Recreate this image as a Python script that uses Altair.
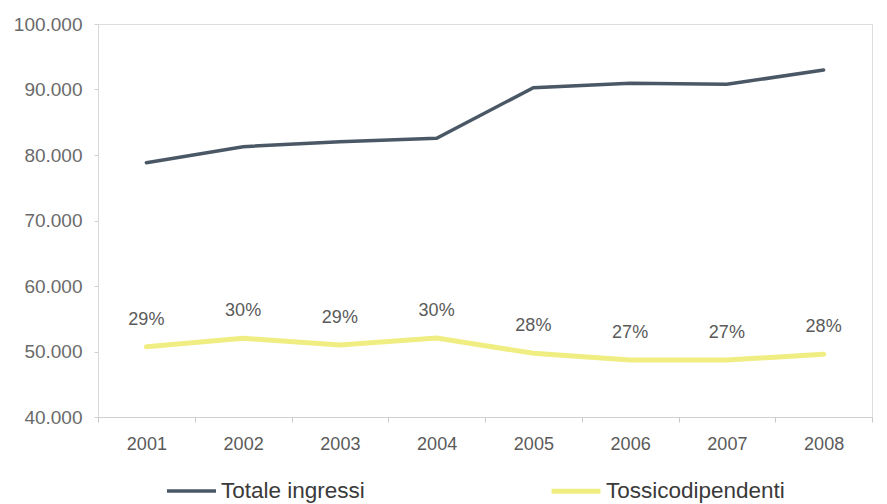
import altair as alt
import pandas as pd

years = ["2001", "2002", "2003", "2004", "2005", "2006", "2007", "2008"]
totale_ingressi = [78820, 81270, 82030, 82550, 90280, 90940, 90790, 92980]
tossicodipendenti = [50730, 52010, 50990, 52050, 49720, 48700, 48700, 49570]
percentuali = ["29%", "30%", "29%", "30%", "28%", "27%", "27%", "28%"]
series_names = ["Totale ingressi", "Tossicodipendenti"]
series_colors = ["#4a5866", "#f0ee82"]
series_widths = [3.5, 5]
y_ticks = [40000, 50000, 60000, 70000, 80000, 90000, 100000]

rows = []
for i, y in enumerate(years):
    rows.append({"anno": y, "serie": series_names[0], "valore": totale_ingressi[i], "pct": ""})
    rows.append({"anno": y, "serie": series_names[1], "valore": tossicodipendenti[i], "pct": percentuali[i]})
df = pd.DataFrame(rows)

FONT = "Liberation Sans"
TXT = "#5a5a5a"

x_enc = alt.X(
    "anno:O",
    bandPosition=0.5,
    scale=alt.Scale(type="band", paddingInner=0, paddingOuter=0),
    axis=alt.Axis(
        title=None, labelAngle=0, labelFontSize=18, labelFont=FONT, labelColor=TXT,
        tickBand="extent", tickSize=5, tickColor="#c8c8c8", domainColor="#d0d0d0",
        labelPadding=13, grid=False,
    ),
)
y_enc = alt.Y(
    "valore:Q",
    scale=alt.Scale(domain=[40000, 100000], nice=False, zero=False),
    axis=alt.Axis(
        title=None, values=y_ticks, labelFontSize=19, labelFont=FONT, labelColor="#6a6a6a",
        labelExpr="replace(format(datum.value, ',d'), ',', '.')",
        tickSize=4, tickColor="#d0d0d0", domainColor="#d8d8d8", labelPadding=12, grid=False,
    ),
)

lines = alt.Chart(df).mark_line(strokeCap="round").encode(
    x=x_enc,
    y=y_enc,
    color=alt.Color(
        "serie:N",
        scale=alt.Scale(domain=series_names, range=series_colors),
        sort=series_names,
        legend=alt.Legend(
            title=None, orient="none", legendX=67, legendY=440, direction="horizontal",
            symbolType="stroke", symbolSize=2400, symbolStrokeWidth=4, labelFontSize=22.5,
            labelFont=FONT, labelColor="#3a3a3a", labelOffset=3, columnPadding=176,
            labelLimit=400, padding=0,
        ),
    ),
    strokeWidth=alt.StrokeWidth(
        "serie:N", scale=alt.Scale(domain=series_names, range=series_widths), legend=None
    ),
    detail="serie:N",
)

labels = alt.Chart(df).transform_filter(
    alt.datum.serie == series_names[1]
).mark_text(fontSize=18, font=FONT, color=TXT, dy=-27, baseline="middle", align="center").encode(
    x=alt.X("anno:O", bandPosition=0.5, scale=alt.Scale(type="band", paddingInner=0, paddingOuter=0)),
    y=alt.Y("valore:Q"),
    text="pct:N",
)

chart = alt.layer(lines, labels).properties(
    width=774, height=393,
    autosize=alt.AutoSizeParams(type="none"),
    padding={"left": 90, "top": 16, "right": 7, "bottom": 87},
).configure_view(stroke=None).configure(background="white")

chart.save("out.html", embed_options={"renderer": "svg", "actions": False})
